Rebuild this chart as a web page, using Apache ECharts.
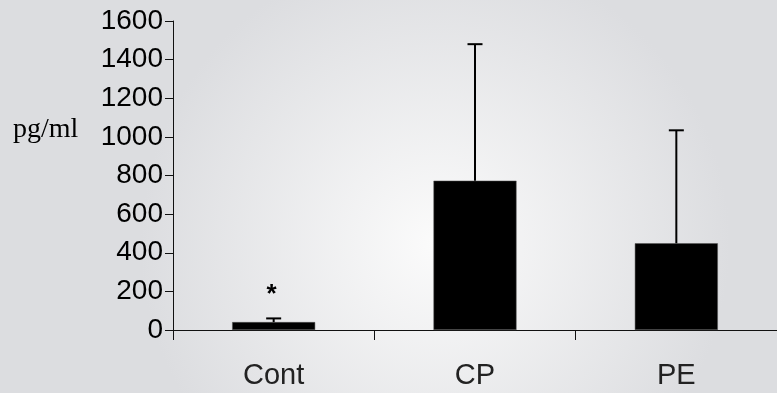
<!DOCTYPE html>
<html>
<head>
<meta charset="utf-8">
<script src="https://cdn.jsdelivr.net/npm/echarts@6/dist/echarts.min.js"></script>
<style>html,body{margin:0;padding:0;}#c{width:777px;height:393px;}</style>
</head>
<body>
<div id="c"></div>
<script>
var categories = ['Cont', 'CP', 'PE'];
var means = [41, 773, 449];
var errUpper = [60, 1480, 1034];
var yTicks = [0, 200, 400, 600, 800, 1000, 1200, 1400, 1600];
var unitLabel = 'pg/ml';
var markText = '*';

var chart = echarts.init(document.getElementById('c'));
var barData = means.map(function (v, i) {
  if (i === 0) {
    return { value: v, label: { show: true, formatter: markText, position: 'top', distance: 14, offset: [-2, 0], fontSize: 26, fontWeight: 'bold', color: '#000', fontFamily: 'Liberation Sans' } };
  }
  return v;
});
var errData = means.map(function (v, i) { return [i, v, errUpper[i]]; });

chart.setOption({
  animation: false,
  backgroundColor: {
    type: 'radial', x: 0.56, y: 0.62, r: 0.75,
    colorStops: [{ offset: 0, color: '#fbfbfb' }, { offset: 1, color: '#dcdde0' }]
  },
  grid: { left: 173, top: 21, bottom: 63, right: -10 },
  graphic: [{
    type: 'text', left: 13, top: 116,
    style: { text: unitLabel, fontFamily: 'Liberation Serif', fontSize: 28, fill: '#000' }
  }],
  xAxis: {
    type: 'category', data: categories,
    axisLine: { lineStyle: { color: '#111', width: 1 } },
    axisTick: { show: true, length: 10, lineStyle: { color: '#111' } },
    axisLabel: { fontFamily: 'Liberation Sans', fontSize: 29, color: '#222', margin: 31 }
  },
  yAxis: {
    type: 'value', min: yTicks[0], max: yTicks[yTicks.length - 1], interval: 200,
    axisLine: { show: true, lineStyle: { color: '#111', width: 1 } },
    axisTick: { show: true, length: 8, lineStyle: { color: '#111' } },
    axisLabel: { fontFamily: 'Liberation Sans', fontSize: 28, color: '#000', margin: 10, formatter: function (v) { return String(v); } },
    splitLine: { show: false }
  },
  series: [{
    type: 'bar', data: barData, barWidth: 83,
    itemStyle: { color: '#000', borderColor: '#555', borderWidth: 0.5 }
  }, {
    type: 'custom', data: errData, z: 3,
    renderItem: function (params, api) {
      var x = api.value(0);
      var base = api.coord([x, api.value(1)]);
      var top = api.coord([x, api.value(2)]);
      var hw = 7.5;
      return { type: 'group', children: [
        { type: 'line', shape: { x1: top[0], y1: top[1], x2: base[0], y2: base[1] }, style: { stroke: '#000', lineWidth: 2 } },
        { type: 'line', shape: { x1: top[0] - hw, y1: top[1], x2: top[0] + hw, y2: top[1] }, style: { stroke: '#000', lineWidth: 2 } }
      ] };
    }
  }]
});
</script>
</body>
</html>
